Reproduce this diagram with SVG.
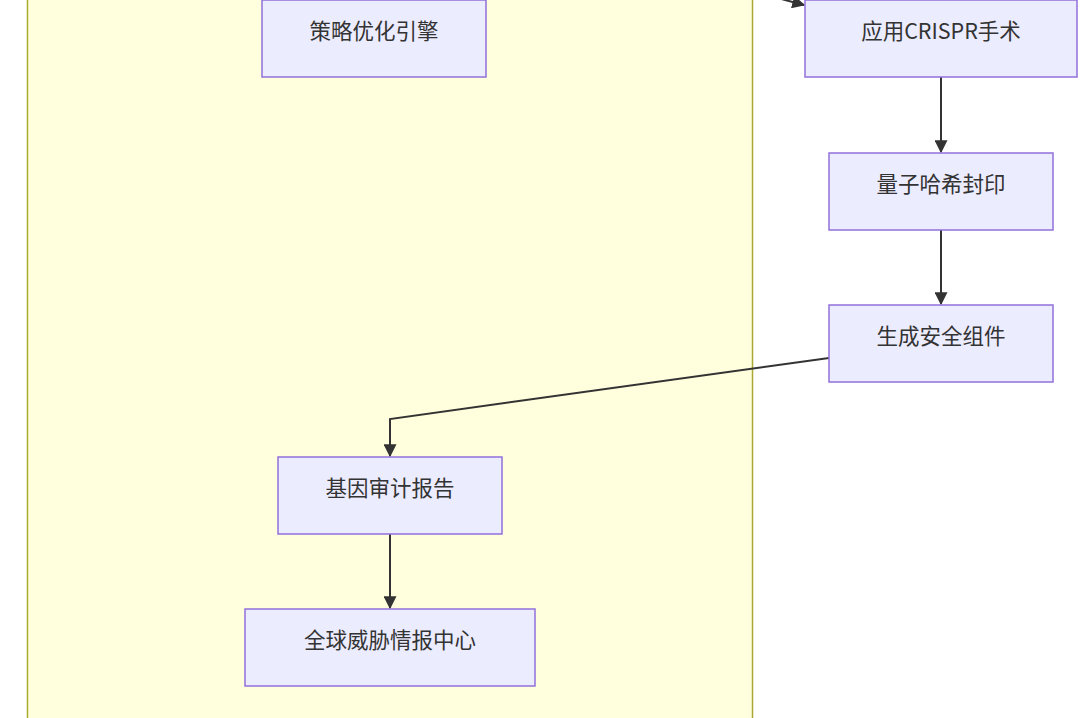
<svg xmlns="http://www.w3.org/2000/svg" width="1089" height="718" viewBox="0 0 1089 718">
<style>
.node rect{fill:#ECECFF;stroke:#9370DB;stroke-width:1.5px;}
.node text{font-family:"Trebuchet MS","Noto Sans CJK SC",sans-serif;font-size:21.5px;fill:#333;text-anchor:middle;}
.edge{fill:none;stroke:#333;stroke-width:2px;}
</style>
<defs>
<marker id="arr" viewBox="0 0 10 10" refX="9" refY="5" markerWidth="13" markerHeight="13" markerUnits="userSpaceOnUse" orient="auto">
<path d="M0,0L10,5L0,10z" fill="#333"/>
</marker>
</defs>
<rect width="1089" height="718" fill="#fff"/>
<g id="cluster">
<rect x="27.5" y="-20" width="725" height="760" fill="#ffffde" stroke="#aaaa33" stroke-width="1.5"/>
</g>
<g id="connectors">
<path class="edge" d="M770,-4L804,5" marker-end="url(#arr)"/>
<path class="edge" d="M941,77V152" marker-end="url(#arr)"/>
<path class="edge" d="M941,230V304" marker-end="url(#arr)"/>
<path class="edge" d="M829,358L390,419V456" marker-end="url(#arr)"/>
<path class="edge" d="M390,534V608" marker-end="url(#arr)"/>
</g>
<g id="n1" class="node"><rect x="262" y="0" width="224" height="77"/><text x="374" y="39">策略优化引擎</text></g>
<g id="n2" class="node"><rect x="805" y="0" width="272" height="77"/><text x="941" y="39">应用CRISPR手术</text></g>
<g id="n3" class="node"><rect x="829" y="153" width="224" height="77"/><text x="941" y="192">量子哈希封印</text></g>
<g id="n4" class="node"><rect x="829" y="305" width="224" height="77"/><text x="941" y="344">生成安全组件</text></g>
<g id="n5" class="node"><rect x="278" y="457" width="224" height="77"/><text x="390" y="496">基因审计报告</text></g>
<g id="n6" class="node"><rect x="245" y="609" width="290" height="77"/><text x="390" y="648">全球威胁情报中心</text></g>
</svg>
